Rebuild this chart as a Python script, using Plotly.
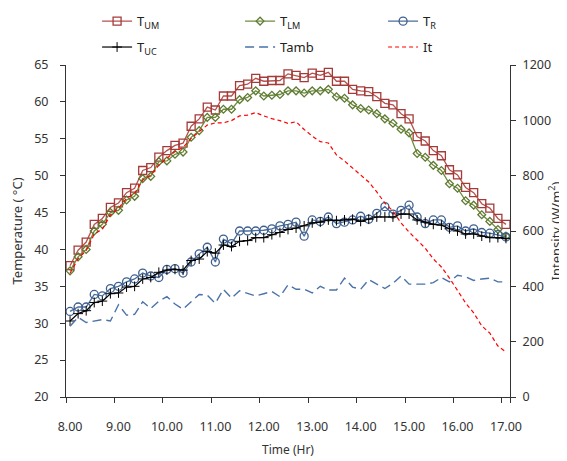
import plotly.graph_objects as go

times = [f"{8 + k // 6}.{(k % 6) * 10:02d}" for k in range(55)]
hour_labels = ["8.00", "9.00", "10.00", "11.00", "12.00", "13.00", "14.00", "15.00", "16.00", "17.00"]

t_um = [37.8, 39.9, 41.0, 43.4, 44.2, 45.7, 46.3, 47.7, 48.3, 50.7, 51.1, 52.5, 53.4, 54.1, 54.4,
        56.7, 57.7, 59.3, 58.9, 60.8, 60.8, 62.2, 62.4, 63.2, 62.8, 62.9, 62.9, 63.8, 63.6, 63.3,
        63.9, 63.6, 64.0, 62.8, 62.8, 61.7, 61.5, 61.4, 60.7, 59.8, 59.6, 58.4, 57.7, 55.3, 54.7,
        53.4, 52.7, 50.8, 50.1, 48.4, 47.7, 46.2, 45.6, 44.2, 43.4]
t_lm = [37.1, 39.0, 40.0, 42.5, 43.4, 45.0, 45.3, 46.7, 47.2, 49.6, 49.9, 51.9, 52.0, 52.9, 53.2,
        55.2, 56.1, 57.9, 57.9, 59.0, 59.0, 60.3, 60.6, 61.5, 60.8, 60.9, 61.0, 61.5, 61.5, 61.2,
        61.5, 61.5, 61.7, 60.7, 60.5, 59.6, 59.1, 58.9, 58.4, 57.7, 57.1, 56.3, 55.8, 53.0, 52.5,
        51.4, 50.7, 48.9, 48.3, 46.6, 46.0, 44.7, 43.8, 42.7, 41.8]
t_r = [31.6, 32.2, 32.2, 33.9, 33.7, 34.7, 35.0, 35.6, 36.0, 36.8, 36.4, 36.2, 37.3, 37.4, 36.8,
       38.3, 39.4, 40.3, 38.3, 41.4, 40.8, 42.5, 42.5, 42.5, 42.6, 42.8, 43.2, 43.4, 43.7, 41.8,
       44.0, 43.8, 44.4, 43.5, 43.7, 44.0, 44.5, 44.1, 44.9, 45.8, 44.8, 45.3, 46.0, 44.4, 43.5,
       44.0, 44.0, 43.0, 43.2, 42.5, 42.8, 42.3, 42.2, 42.0, 41.7]
t_uc = [30.3, 31.3, 31.7, 32.8, 33.0, 34.0, 34.1, 34.9, 35.0, 36.0, 36.2, 36.9, 37.2, 37.3, 37.2,
        38.5, 38.7, 39.7, 39.5, 40.6, 40.4, 41.1, 41.2, 41.6, 41.6, 42.0, 42.3, 42.7, 42.9, 43.2,
        43.6, 43.7, 44.0, 43.9, 44.0, 44.1, 43.8, 44.1, 44.4, 44.4, 44.4, 44.8, 44.8, 44.0, 43.7,
        43.4, 43.3, 42.8, 42.5, 42.1, 42.1, 41.8, 41.6, 41.6, 41.5]
t_amb = [29.6, 30.8, 30.1, 30.3, 30.5, 30.3, 32.5, 31.1, 31.2, 32.9, 32.0, 33.0, 33.6, 32.6, 31.9,
         32.9, 33.9, 33.8, 32.7, 34.6, 33.4, 34.4, 34.1, 33.7, 34.0, 34.3, 33.6, 35.2, 34.6, 34.6,
         34.1, 35.0, 34.5, 34.5, 36.1, 34.9, 34.6, 35.9, 35.3, 34.7, 35.4, 36.4, 35.3, 35.3, 35.3,
         35.5, 36.2, 35.6, 36.5, 36.3, 35.8, 36.0, 36.1, 35.6, 35.6]
it = [447, 500, 529, 589, 606, 658, 682, 718, 736, 784, 802, 838, 863, 887, 902,
      935, 959, 983, 991, 991, 999, 1016, 1019, 1028, 1016, 1006, 999, 989, 995, 967,
      943, 923, 918, 875, 853, 828, 802, 777, 741, 701, 672, 629, 596, 567, 538,
      499, 470, 430, 387, 340, 304, 257, 231, 184, 163]

FONT = "Noto Sans"
AX = "#333333"
fig = go.Figure()

fig.add_trace(go.Scatter(x=times, y=t_um, name="T<sub>UM</sub>", mode="lines+markers", legend="legend",
                         line=dict(color="#B5514E", width=1.3),
                         marker=dict(symbol="square-open", size=8, color="#A33B39", line=dict(width=1.3))))
fig.add_trace(go.Scatter(x=times, y=t_lm, name="T<sub>LM</sub>", mode="lines+markers", legend="legend",
                         line=dict(color="#6E8B3D", width=1.3),
                         marker=dict(symbol="diamond-open", size=6, color="#5F7A32", line=dict(width=1.3))))
fig.add_trace(go.Scatter(x=times, y=t_r, name="T<sub>R</sub>", mode="lines+markers", legend="legend",
                         line=dict(color="#4A6D9C", width=1.3),
                         marker=dict(symbol="circle-open", size=8, color="#3E5F8F", line=dict(width=1.3))))
fig.add_trace(go.Scatter(x=times, y=t_uc, name="T<sub>UC</sub>", mode="lines+markers", legend="legend2",
                         line=dict(color="#000000", width=1.2),
                         marker=dict(symbol="cross-thin-open", size=7, color="#000000",
                                     line=dict(width=1.0, color="#000000"))))
fig.add_trace(go.Scatter(x=times, y=t_amb, name="Tamb", mode="lines", legend="legend2",
                         line=dict(color="#4A73A8", width=1.4, dash="9px,5px")))
fig.add_trace(go.Scatter(x=times, y=it, name="It", mode="lines", yaxis="y2", legend="legend2",
                         line=dict(color="#FF0000", width=1.2, dash="4px,3px")))

leg_common = dict(orientation="h", x=0.07, xanchor="left", yanchor="middle",
                  entrywidth=98, font=dict(family=FONT, size=13, color="#222222"),
                  itemwidth=30, bgcolor="rgba(0,0,0,0)", borderwidth=0)

# the page body adds an 8px offset, so the figure is sized and margined to compensate
fig.update_layout(
    width=559, height=453,
    margin=dict(l=58, r=57, t=57, b=64, autoexpand=False),
    paper_bgcolor="white", plot_bgcolor="white",
    font=dict(family=FONT, size=12, color=AX),
    showlegend=True,
    legend=dict(y=1.132, **leg_common),
    legend2=dict(y=1.054, **leg_common),
    xaxis=dict(type="category", tickmode="array", tickvals=hour_labels, ticktext=hour_labels,
               tickson="boundaries", ticks="outside", ticklen=5, tickcolor=AX, tickangle=0,
               showline=True, linecolor=AX, linewidth=1, showgrid=False, zeroline=False,
               range=[-0.5, 54.5], automargin=False, ticklabelstandoff=18,
               title=dict(text="Time (Hr)", font=dict(size=12, color=AX), standoff=11),
               tickfont=dict(size=12.5, color=AX)),
    yaxis=dict(range=[20, 65], dtick=5, ticks="outside", ticklen=5, tickcolor=AX,
               showline=True, linecolor=AX, linewidth=1, showgrid=False, zeroline=False,
               automargin=False, ticklabelstandoff=9,
               title=dict(text="Temperature (\u00a0°C)", font=dict(size=13, color=AX), standoff=13),
               tickfont=dict(size=12.5, color=AX)),
    yaxis2=dict(range=[0, 1200], dtick=200, overlaying="y", side="right",
                ticks="outside", ticklen=5, tickcolor=AX, automargin=False, ticklabelstandoff=4,
                showline=True, linecolor=AX, linewidth=1, showgrid=False, zeroline=False,
                title=dict(text="Intensity (W/m<sup>2</sup>)", font=dict(size=13, color=AX), standoff=1),
                tickfont=dict(size=12.5, color=AX)),
)

fig.write_html("out.html")
